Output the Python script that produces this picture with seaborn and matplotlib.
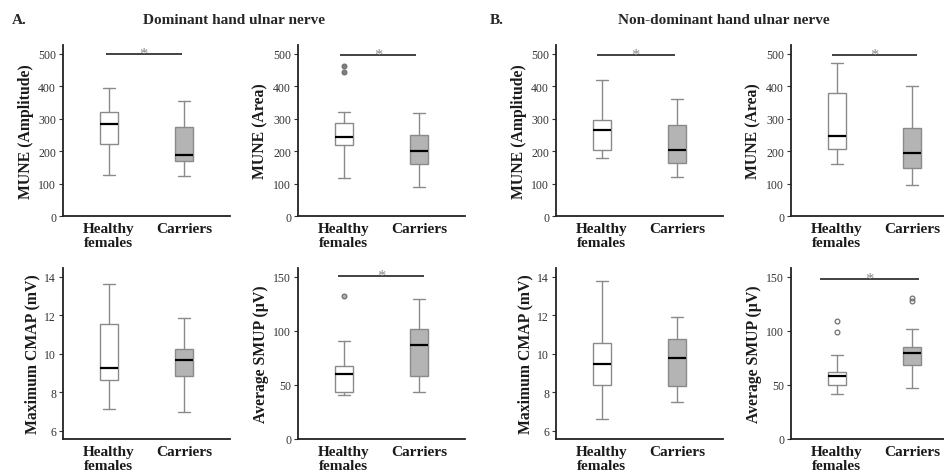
import matplotlib
matplotlib.use("Agg")
import matplotlib.pyplot as plt
import seaborn as sns

# group labels
groups = ["Healthy\nfemales", "Carriers"]

# five-number summaries: whisker low, q1, median, q3, whisker high
dom_amp_healthy = [127, 221, 283, 321, 396]
dom_amp_carriers = [124, 171, 188, 273, 355]
dom_area_healthy = [118, 218, 245, 286, 321]
dom_area_carriers = [89, 159, 199, 249, 316]
dom_cmap_healthy = [7.11, 8.65, 9.26, 11.52, 13.64]
dom_cmap_carriers = [6.95, 8.86, 9.67, 10.26, 11.87]
dom_smup_healthy = [40.7, 43.5, 59.9, 67.6, 91]
dom_smup_carriers = [43.8, 58, 87, 102, 129]

nd_amp_healthy = [180, 203, 264, 295, 418]
nd_amp_carriers = [121, 164, 203, 280, 360]
nd_area_healthy = [159, 205, 246, 380, 472]
nd_area_carriers = [94, 147, 194, 271, 400]
nd_cmap_healthy = [6.59, 8.39, 9.47, 10.58, 13.77]
nd_cmap_carriers = [7.49, 8.34, 9.78, 10.75, 11.90]
nd_smup_healthy = [41.7, 50, 58, 62.3, 78]
nd_smup_carriers = [46.9, 68.5, 79.6, 84.6, 101.5]

# outliers
dom_area_healthy_out = [443, 462]
dom_smup_healthy_out = [132]
nd_smup_healthy_out = [98.8, 108.6]
nd_smup_carriers_out = [127.7, 130.2]

# significance bars (height of the bar)
dom_amp_sig = 500
dom_area_sig = 495
dom_smup_sig = 150.6
nd_amp_sig = 497
nd_area_sig = 495
nd_smup_sig = 147.8

mune_ticks = [0, 100, 200, 300, 400, 500]
cmap_ticks = [6, 8, 10, 12, 14]
smup_ticks = [0, 50, 100, 150]

sns.set_style("ticks")
plt.rcParams["font.family"] = ["Liberation Serif", "DejaVu Serif"]

W, H = 945, 477
fig = plt.figure(figsize=(W / 100, H / 100), dpi=100)

EDGE = "#8a8a8a"
FILLS = ["white", "#b4b4b4"]


def make_stats(summary, fliers, label):
    lo, q1, med, q3, hi = summary
    return {"whislo": lo, "q1": q1, "med": med, "q3": q3, "whishi": hi,
            "fliers": fliers, "label": label}


def draw_panel(left_px, top_px, healthy, carriers, ylabel, ylim, yticks,
               h_out=(), c_out=(), sig=None, span=(-0.05, 0.98), flier_fill="none"):
    bottom_px = top_px + 171
    ax = fig.add_axes([left_px / W, 1 - bottom_px / H, 167 / W, 171 / H])
    stats = [make_stats(healthy, list(h_out), groups[0]),
             make_stats(carriers, list(c_out), groups[1])]
    bp = ax.bxp(stats, positions=[0, 1], widths=0.25, patch_artist=True,
                capwidths=0.17,
                boxprops=dict(edgecolor=EDGE, linewidth=1.0),
                whiskerprops=dict(color=EDGE, linewidth=1.0),
                capprops=dict(color=EDGE, linewidth=1.0),
                medianprops=dict(color="black", linewidth=1.6),
                flierprops=dict(marker="o", markersize=3.4, markerfacecolor=flier_fill,
                                markeredgecolor="#707070", markeredgewidth=0.9))
    for patch, fc in zip(bp["boxes"], FILLS):
        patch.set_facecolor(fc)
    ax.set_xlim(-0.613, 1.613)
    ax.set_ylim(*ylim)
    ax.set_yticks(yticks)
    ax.set_xticks([0, 1])
    ax.set_xticklabels(groups, fontsize=11, fontweight="bold", color="#1a1a1a",
                       linespacing=1.15)
    ax.tick_params(axis="x", length=0, pad=4)
    ax.tick_params(axis="y", length=3, width=0.8, labelsize=8.5, pad=2,
                   color="#333333", labelcolor="#333333")
    ax.set_ylabel(ylabel, fontsize=11.3, fontweight="bold", labelpad=3, color="#1a1a1a")
    for s in ["left", "bottom"]:
        ax.spines[s].set_linewidth(1.3)
        ax.spines[s].set_color("#222222")
    sns.despine(ax=ax)
    if sig is not None:
        ax.plot(list(span), [sig, sig], color="#222222", linewidth=1.2,
                solid_capstyle="butt", clip_on=False)
        ax.annotate("*", xy=((span[0] + span[1]) / 2, sig), xytext=(0, 0),
                    textcoords="offset points", ha="center", va="center",
                    fontsize=12, color="#8a8a8a", annotation_clip=False)
    return ax


# column spines (px) and row tops (px)
cols = [63, 298, 556, 791]
rows = [46, 269]

mune_lim = (0, 527)
cmap_lim = (5.57, 14.45)
smup_lim = (0, 158)

draw_panel(cols[0], rows[0], dom_amp_healthy, dom_amp_carriers, "MUNE (Amplitude)",
           mune_lim, mune_ticks, sig=dom_amp_sig, span=(-0.04, 0.97))
draw_panel(cols[1], rows[0], dom_area_healthy, dom_area_carriers, "MUNE (Area)",
           mune_lim, mune_ticks, h_out=dom_area_healthy_out, sig=dom_area_sig,
           span=(-0.05, 0.96), flier_fill="#808080")
draw_panel(cols[0], rows[1], dom_cmap_healthy, dom_cmap_carriers, "Maximum CMAP (mV)",
           cmap_lim, cmap_ticks)
draw_panel(cols[1], rows[1], dom_smup_healthy, dom_smup_carriers, "Average SMUP (µV)",
           smup_lim, smup_ticks, h_out=dom_smup_healthy_out, sig=dom_smup_sig,
           span=(-0.08, 1.07), flier_fill="#b0b0b0")

draw_panel(cols[2], rows[0], nd_amp_healthy, nd_amp_carriers, "MUNE (Amplitude)",
           mune_lim, mune_ticks, sig=nd_amp_sig, span=(-0.07, 0.97))
draw_panel(cols[3], rows[0], nd_area_healthy, nd_area_carriers, "MUNE (Area)",
           mune_lim, mune_ticks, sig=nd_area_sig, span=(-0.07, 1.07))
draw_panel(cols[2], rows[1], nd_cmap_healthy, nd_cmap_carriers, "Maximum CMAP (mV)",
           cmap_lim, cmap_ticks)
draw_panel(cols[3], rows[1], nd_smup_healthy, nd_smup_carriers, "Average SMUP (µV)",
           smup_lim, smup_ticks, h_out=nd_smup_healthy_out, c_out=nd_smup_carriers_out,
           sig=nd_smup_sig, span=(-0.22, 1.09))

fig.text(12 / W, 1 - 20 / H, "A.", fontsize=11, fontweight="bold", va="center")
fig.text(490 / W, 1 - 20 / H, "B.", fontsize=11, fontweight="bold", va="center")
fig.text(234 / W, 1 - 20 / H, "Dominant hand ulnar nerve", fontsize=11,
         fontweight="bold", ha="center", va="center")
fig.text(724 / W, 1 - 20 / H, "Non-dominant hand ulnar nerve", fontsize=11,
         fontweight="bold", ha="center", va="center")

fig.savefig("out.png", dpi=100, facecolor="white")
